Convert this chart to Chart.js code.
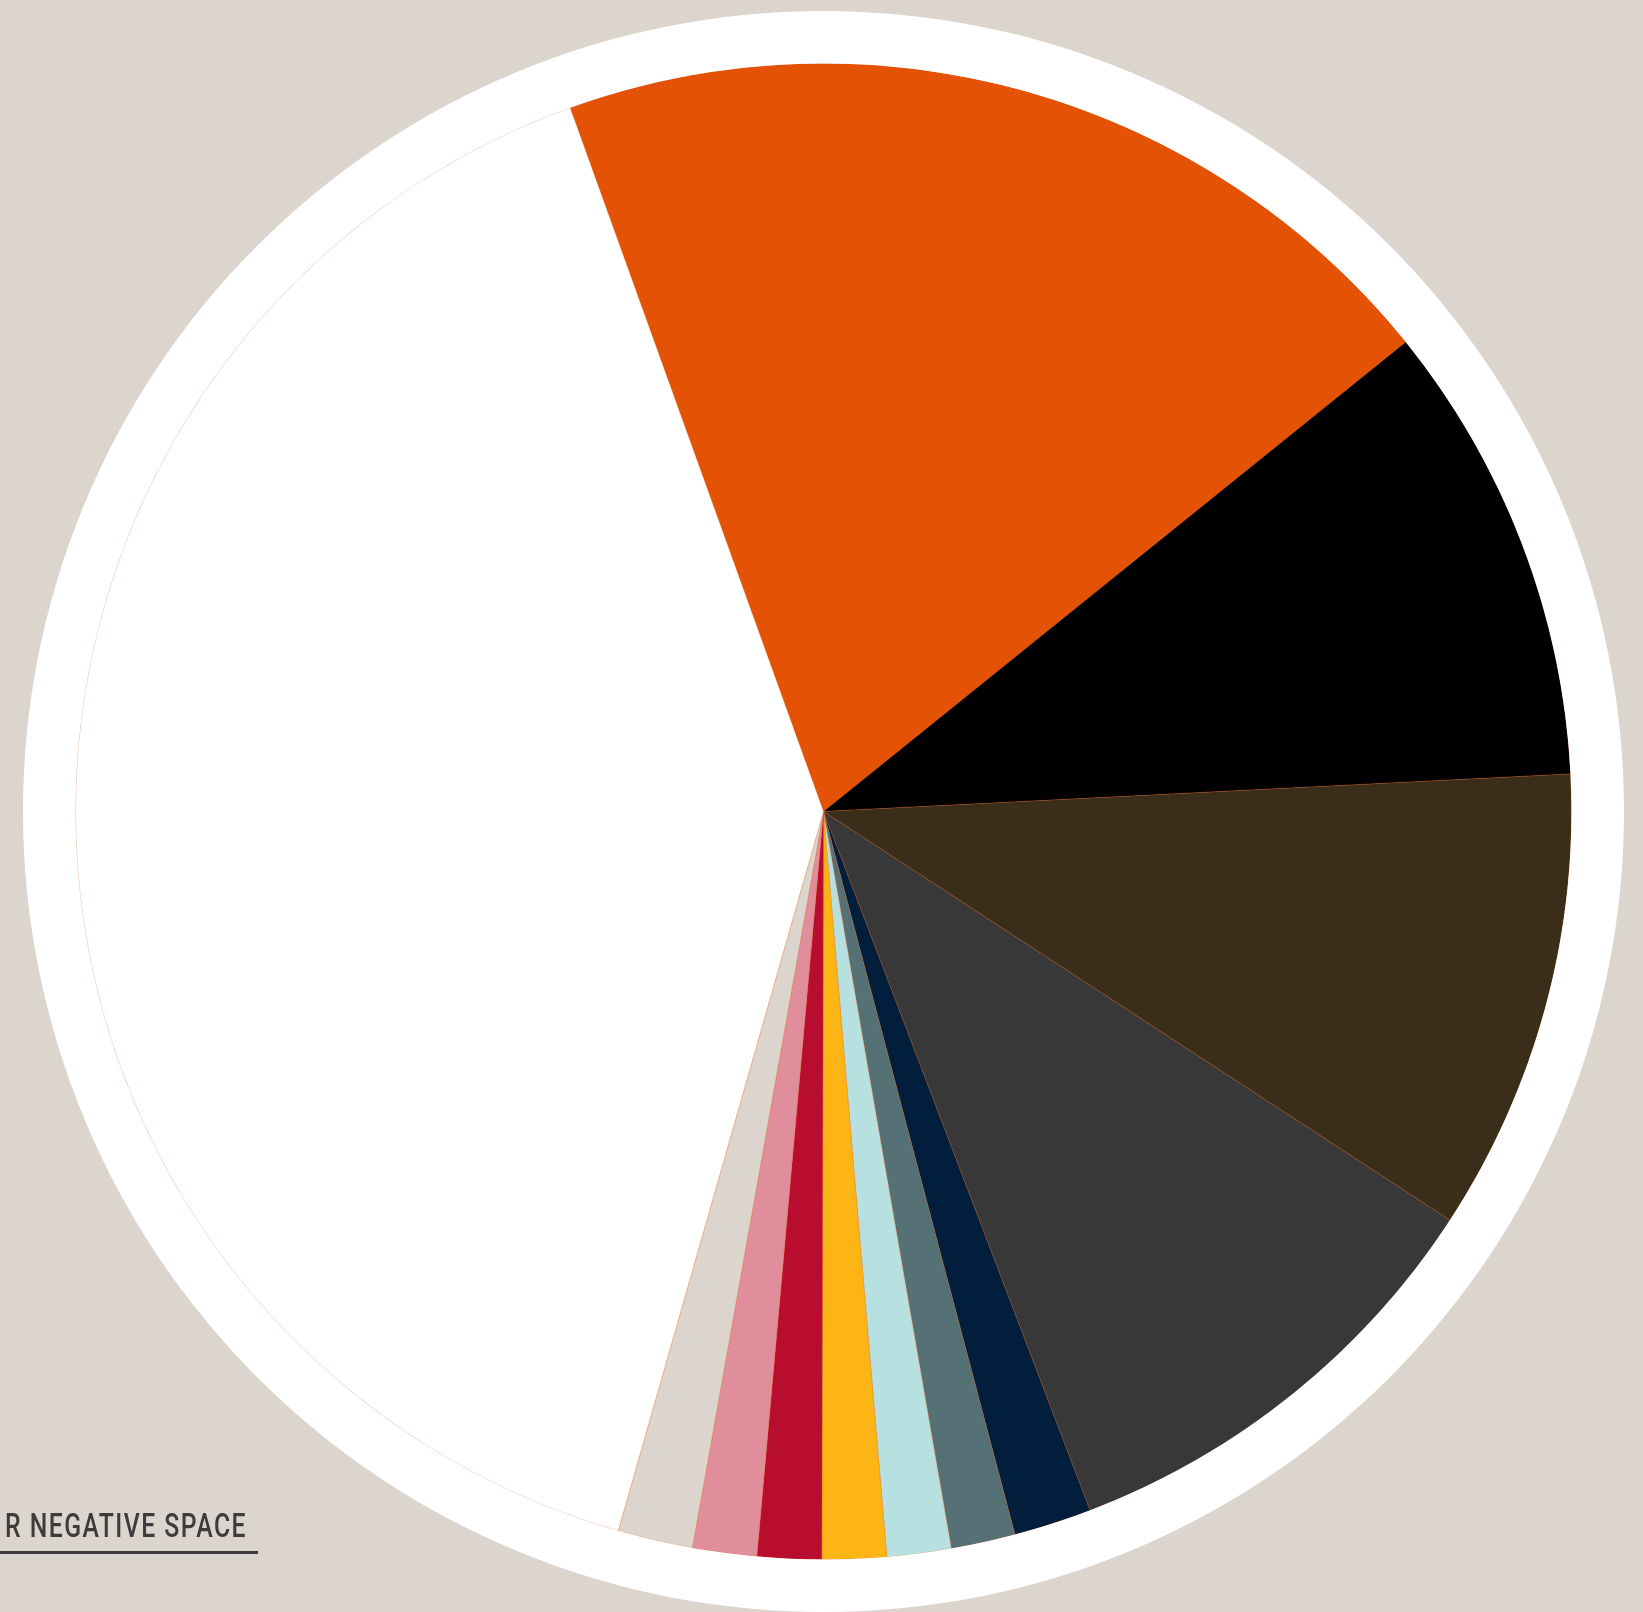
<!DOCTYPE html>
<html>
<head>
<meta charset="utf-8">
<script src="https://cdn.jsdelivr.net/npm/chart.js@4/dist/chart.umd.min.js"></script>
<style>
  html, body { margin: 0; padding: 0; background: #dbd5ce; overflow: hidden; }
  #wrap { position: relative; width: 1643px; height: 1612px; }
  #pieChart { position: absolute; left: 0; top: 0; }
  #caption {
    position: absolute; left: 5px; top: 1505px;
    font-family: Roboto, "DejaVu Sans Condensed", sans-serif;
    font-size: 34px; font-weight: 500; letter-spacing: 2px; color: #3c3c3c;
    line-height: 40px; white-space: nowrap; transform-origin: left top;
  }
  #rule { position: absolute; left: 0; top: 1551px; width: 258px; height: 3px; background: #3c3c3c; }
</style>
</head>
<body>
<div id="wrap">
  <canvas id="pieChart" width="1643" height="1612"></canvas>
  <div id="caption">R NEGATIVE SPACE</div>
  <div id="rule"></div>
</div>
<script>
const sliceLabels = ['A', 'B', 'C', 'D', 'E', 'F', 'G', 'H', 'I', 'J', 'K', 'L'];
const sliceValues = [19.7, 10, 10, 10, 1.68, 1.385, 1.385, 1.385, 1.385, 1.385, 1.62, 40.075];
const sliceColors = [
  '#e35205', '#000000', '#3a2e1a', '#383838', '#011e3c', '#557176',
  '#b7e1e1', '#fdb515', '#b90d2f', '#e08e9b', '#dbd5ce', '#ffffff'
];

// fit caption to the width seen in the picture
const cap = document.getElementById('caption');
cap.style.transform = 'scaleX(' + (242 / cap.getBoundingClientRect().width) + ')';

const ctx = document.getElementById('pieChart').getContext('2d');

const config = {
  type: 'pie',
  data: {
    labels: sliceLabels,
    datasets: [
      {
        // white outer ring
        data: [1],
        backgroundColor: ['#ffffff'],
        borderWidth: 0,
        weight: 52.5
      },
      {
        data: sliceValues,
        backgroundColor: sliceColors,
        borderColor: 'rgba(227, 82, 5, 0.45)',
        borderWidth: 0.6,
        weight: 748
      }
    ]
  },
  options: {
    responsive: false,
    animation: false,
    rotation: -19.8,
    layout: {
      padding: { top: 11, bottom: 0, left: 23, right: 19 }
    },
    plugins: {
      legend: { display: false },
      tooltip: { enabled: false }
    }
  }
};

const pieChart = new Chart(ctx, config);
</script>
</body>
</html>
